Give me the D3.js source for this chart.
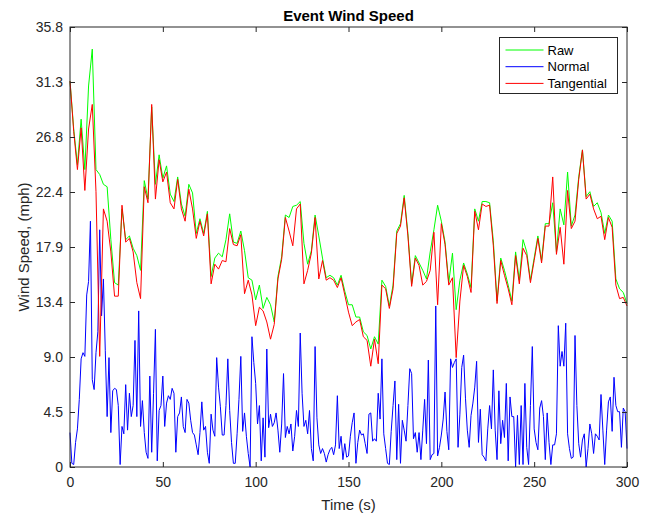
<!DOCTYPE html>
<html>
<head>
<meta charset="utf-8">
<script src="https://cdn.jsdelivr.net/npm/d3@7"></script>
<style>
  body { margin: 0; background: #fff; }
  text { font-family: "Liberation Sans", Arial, Helvetica, sans-serif; fill: #262626; }
</style>
</head>
<body>
<svg id="chart" width="647" height="518"></svg>
<script>
// Raw and tangential wind speed (mph), sampled every 2 s from 0 to 300 s
const rawSpeed = [
  31.4, 27.5, 24.6, 28.3, 24.2, 31.0, 34.0, 24.2, 23.8, 23.0,
  22.8, 18.5, 15.0, 14.8, 21.0, 18.5, 18.8, 17.8, 17.2, 16.0,
  23.3, 21.8, 29.3, 23.0, 25.4, 23.5, 24.5, 22.2, 21.6, 23.6,
  21.4, 20.4, 23.0, 22.3, 19.0, 20.2, 19.0, 20.8, 15.5, 17.0,
  17.4, 17.1, 18.5, 20.6, 18.3, 18.2, 19.2, 17.6, 15.4, 15.2,
  13.6, 14.8, 12.9, 13.8, 13.2, 11.8, 15.5, 17.1, 20.5, 20.3,
  21.2, 21.3, 21.6, 18.2, 16.5, 17.6, 20.5, 18.8, 17.0, 15.4,
  15.6, 15.4, 14.8, 15.6, 14.3, 13.2, 13.2, 12.2, 12.2, 11.0,
  10.7, 9.6, 10.6, 10.0, 15.2, 14.7, 13.1, 14.8, 19.2, 19.8,
  22.1, 19.0, 14.9, 17.2, 16.6, 16.0, 15.3, 17.5, 19.3, 21.3,
  20.0, 18.3, 15.0, 17.4, 12.8, 15.2, 16.6, 15.7, 14.6, 21.0,
  20.0, 21.6, 21.6, 21.5, 18.4, 13.5, 17.0, 16.0, 14.8, 13.5,
  17.5, 15.2, 18.5, 17.5, 15.2, 17.0, 18.8, 16.8, 19.8, 19.8,
  21.5, 17.5, 21.0, 19.7, 24.0, 19.6, 20.5, 23.6, 25.8, 22.0,
  22.4, 21.2, 21.5, 20.7, 19.0, 20.5, 20.0, 15.3, 14.5, 14.2,
  13.3
];
const tangentialSpeed = [
  31.4, 27.3, 24.2, 27.6, 22.5, 27.5, 29.5, 22.4, 9.0, 21.0,
  20.0, 17.5, 13.9, 13.9, 21.3, 18.3, 18.6, 17.5, 15.0, 13.7,
  22.8, 21.5, 29.5, 21.8, 25.0, 23.2, 24.0, 21.5, 21.0, 23.4,
  21.0, 20.0, 22.6, 21.0, 18.6, 20.0, 18.8, 20.6, 14.9, 16.5,
  16.1, 16.8, 16.7, 19.4, 18.1, 18.0, 18.9, 14.1, 15.2, 14.0,
  11.5, 13.0, 12.7, 11.8, 10.4, 11.6, 15.3, 16.9, 20.3, 19.2,
  18.0, 21.0, 21.4, 14.9, 16.0, 17.4, 20.3, 15.3, 16.8, 15.2,
  15.4, 15.2, 14.6, 15.4, 14.0, 12.6, 11.5, 11.8, 12.0, 10.6,
  10.3, 8.2, 10.4, 8.4, 14.8, 14.5, 12.9, 14.5, 19.0, 19.6,
  21.9, 18.8, 14.7, 17.0, 16.4, 14.8, 15.1, 16.0, 19.1, 13.2,
  19.8, 18.1, 14.8, 15.4, 8.9, 13.5, 16.4, 15.5, 14.2, 20.8,
  19.3, 21.4, 21.2, 21.3, 18.0, 13.3, 16.8, 15.6, 14.5, 13.2,
  17.2, 14.9, 17.8, 17.2, 15.0, 16.8, 18.6, 16.6, 19.6, 19.6,
  23.6, 17.3, 19.5, 16.5, 22.5, 19.4, 20.0, 23.4, 25.8, 21.8,
  22.2, 21.0, 20.2, 20.4, 18.5, 20.3, 19.5, 14.8, 13.7, 13.8,
  13.1
];
// Normal wind speed (mph), sampled every 1 s from 0 to 300 s
const normalSpeed = [
  2.8, 0.3, 0.2, 2.0, 3.1, 5.5, 8.8, 9.3, 9.0, 14.0,
  15.1, 20.0, 7.1, 6.3, 9.3, 11.0, 19.3, 12.3, 15.3, 9.5,
  4.1, 8.9, 2.8, 6.2, 6.4, 6.3, 5.0, 0.2, 3.3, 2.7,
  6.7, 3.0, 6.0, 4.1, 5.0, 10.3, 4.1, 12.7, 3.3, 5.4,
  2.8, 1.2, 0.7, 7.4, 1.2, 6.0, 11.2, 0.5, 4.6, 5.0,
  7.4, 3.3, 5.2, 5.8, 5.5, 6.4, 6.0, 1.2, 4.1, 4.4,
  5.7, 3.3, 2.8, 5.5, 5.2, 3.8, 2.8, 2.6, 1.8, 1.0,
  2.8, 5.3, 3.0, 3.3, 1.2, 0.3, 4.3, 3.0, 2.5, 8.9,
  6.5, 4.9, 2.6, 2.6, 5.0, 8.8, 4.6, 2.0, 0.3, 0.3,
  2.7, 5.5, 9.0, 2.9, 4.4, 2.5, 1.1, 0.0, 10.6, 8.5,
  6.8, 3.5, 5.0, 0.5, 4.0, 0.8, 9.6, 3.2, 4.3, 3.3,
  3.6, 4.4, 3.0, 1.2, 3.5, 7.6, 2.4, 3.3, 2.7, 3.5,
  1.3, 2.5, 4.6, 3.3, 10.9, 6.0, 3.3, 3.8, 2.7, 4.6,
  1.5, 0.5, 9.8, 4.0, 1.8, 1.1, 1.5, 1.1, 0.4, 1.0,
  1.4, 1.6, 1.0, 1.8, 5.8, 1.5, 2.5, 0.6, 1.9, 0.8,
  0.9, 2.5, 3.6, 4.4, 0.3, 2.0, 3.0, 2.6, 2.7, 1.9,
  1.1, 4.3, 4.4, 2.1, 2.3, 2.1, 6.0, 3.9, 8.8, 2.7,
  1.5, 0.3, 0.2, 2.9, 5.0, 7.0, 0.6, 5.1, 0.3, 3.8,
  3.0, 2.1, 5.0, 8.0, 7.6, 2.3, 2.8, 1.2, 2.8, 0.6,
  3.0, 5.5, 1.9, 8.7, 0.6, 1.0, 1.1, 13.1, 0.9, 1.6,
  2.6, 3.9, 6.1, 2.9, 1.4, 8.8, 8.1, 8.5, 8.8, 1.6,
  4.3, 8.1, 9.1, 5.6, 3.0, 1.6, 4.2, 5.2, 6.5, 8.6,
  2.0, 4.7, 1.0, 0.8, 0.5, 3.1, 5.0, 3.1, 7.9, 3.0,
  0.6, 6.2, 1.9, 3.8, 2.4, 6.8, 0.5, 5.7, 4.1, 4.1,
  0.0, 4.2, 0.2, 5.0, 0.2, 6.8, 1.6, 0.2, 5.0, 9.8,
  3.1, 2.0, 1.4, 4.8, 5.4, 4.1, 0.6, 4.4, 2.0, 0.2,
  1.8, 1.8, 2.7, 11.5, 8.2, 9.4, 8.2, 11.7, 2.7, 1.5,
  0.7, 0.8, 10.7, 5.0, 1.9, 0.8, 2.2, 2.7, 0.0, 1.5,
  3.5, 2.7, 1.1, 2.7, 2.5, 2.2, 5.9, 3.0, 0.2, 3.0,
  5.3, 5.7, 2.9, 7.3, 5.0, 4.5, 4.5, 1.6, 4.8, 4.5,
  1.5
];

const rawStep = 2;      // seconds between raw / tangential samples
const normalStep = 1;   // seconds between normal samples

const xTicks = [0, 50, 100, 150, 200, 250, 300];
const yMax = 35.8;
const yTickLabels = ["0", "4.5", "9.0", "13.4", "17.9", "22.4", "26.8", "31.3", "35.8"];
const yTicks = yTickLabels.map((_, i) => i * yMax / (yTickLabels.length - 1));

const seriesNames = ["Raw", "Normal", "Tangential"];
const seriesColors = ["#00ff00", "#0000ff", "#ff0000"];

const margin = { left: 70, right: 20, top: 27, bottom: 51 };
const width = 647, height = 518;
const svg = d3.select("#chart");

const x = d3.scaleLinear().domain([0, 300]).range([margin.left, width - margin.right]);
const y = d3.scaleLinear().domain([0, yMax]).range([height - margin.bottom, margin.top]);

const axisColor = "#262626";
const tickLen = 5;

// lines
const lineFor = step => d3.line().x((d, i) => x(i * step)).y(d => y(d));
const plotted = [
  { values: rawSpeed, step: rawStep, color: seriesColors[0] },
  { values: normalSpeed, step: normalStep, color: seriesColors[1] },
  { values: tangentialSpeed, step: rawStep, color: seriesColors[2] }
];
const plotG = svg.append("g");
plotted.forEach(s => {
  plotG.append("path")
    .datum(s.values)
    .attr("fill", "none")
    .attr("stroke", s.color)
    .attr("stroke-width", 1)
    .attr("stroke-linejoin", "round")
    .attr("d", lineFor(s.step));
});

// axes
function styleAxis(g) {
  g.select(".domain").remove();
  g.selectAll(".tick line").attr("stroke", axisColor).attr("stroke-width", 1);
  g.selectAll(".tick text").attr("fill", axisColor).style("font-size", "14px")
    .style("font-family", "'Liberation Sans', Arial, sans-serif");
}
const yBottom = height - margin.bottom, yTop = margin.top;
const xLeft = margin.left, xRight = width - margin.right;

svg.append("g").attr("transform", `translate(0,${yBottom})`)
  .call(d3.axisBottom(x).tickValues(xTicks).tickFormat(d3.format("d"))
    .tickSizeInner(-tickLen).tickSizeOuter(0).tickPadding(10))
  .call(styleAxis);
svg.append("g").attr("transform", `translate(0,${yTop})`)
  .call(d3.axisTop(x).tickValues(xTicks).tickFormat("")
    .tickSizeInner(-tickLen).tickSizeOuter(0))
  .call(styleAxis);
svg.append("g").attr("transform", `translate(${xLeft},0)`)
  .call(d3.axisLeft(y).tickValues(yTicks).tickFormat((d, i) => yTickLabels[i])
    .tickSizeInner(-tickLen).tickSizeOuter(0).tickPadding(7))
  .call(styleAxis);
svg.append("g").attr("transform", `translate(${xRight},0)`)
  .call(d3.axisRight(y).tickValues(yTicks).tickFormat("")
    .tickSizeInner(-tickLen).tickSizeOuter(0))
  .call(styleAxis);

// frame
svg.append("rect")
  .attr("x", xLeft).attr("y", yTop)
  .attr("width", xRight - xLeft).attr("height", yBottom - yTop)
  .attr("fill", "none").attr("stroke", axisColor).attr("stroke-width", 1);

// title and axis labels
svg.append("text").attr("x", (xLeft + xRight) / 2).attr("y", 21)
  .attr("text-anchor", "middle").style("font-size", "15px").style("font-weight", "bold")
  .attr("fill", "#000").style("fill", "#000")
  .text("Event Wind Speed");
svg.append("text").attr("x", (xLeft + xRight) / 2).attr("y", 510)
  .attr("text-anchor", "middle").style("font-size", "15px")
  .text("Time (s)");
svg.append("text")
  .attr("transform", `translate(29,${(yTop + yBottom) / 2}) rotate(-90)`)
  .attr("text-anchor", "middle").style("font-size", "15px")
  .text("Wind Speed, (mph)");

// legend
const lg = svg.append("g");
const lgX = 499.5, lgY = 37.5, lgW = 118, lgH = 56;
lg.append("rect").attr("x", lgX).attr("y", lgY).attr("width", lgW).attr("height", lgH)
  .attr("fill", "#fff").attr("stroke", axisColor).attr("stroke-width", 1);
seriesNames.forEach((name, i) => {
  const cy = lgY + 12.5 + i * 16.7;
  lg.append("line").attr("x1", lgX + 6).attr("x2", lgX + 44).attr("y1", cy).attr("y2", cy)
    .attr("stroke", seriesColors[i]).attr("stroke-width", 1);
  lg.append("text").attr("x", lgX + 48).attr("y", cy + 4.6)
    .style("font-size", "13px").attr("fill", "#000").style("fill", "#000").text(name);
});
</script>
</body>
</html>
